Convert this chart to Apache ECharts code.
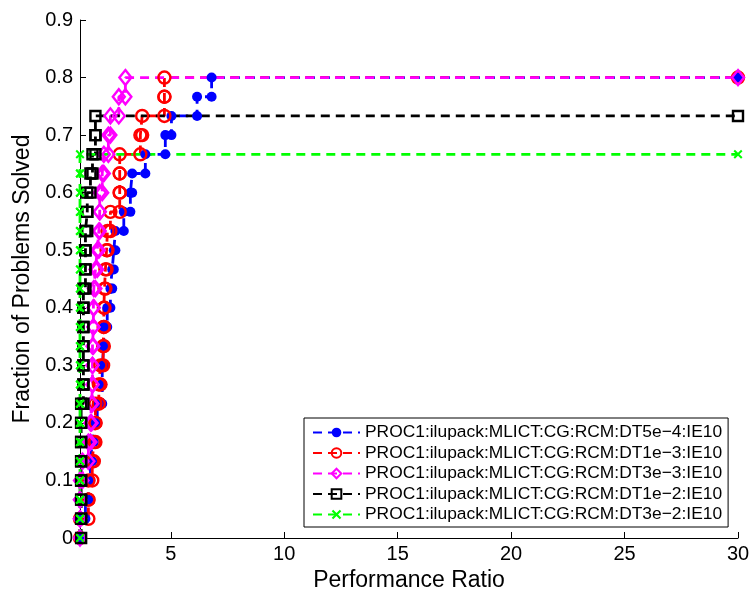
<!DOCTYPE html>
<html>
<head>
<meta charset="utf-8">
<script src="https://cdn.jsdelivr.net/npm/echarts@6/dist/echarts.min.js"></script>
<style>
  html, body { margin: 0; padding: 0; background: #fff; }
  #chart { width: 750px; height: 591px; }
</style>
</head>
<body>
<div id="chart"></div>
<script>
// Performance profile: sorted performance ratios of the solved problems per solver
const nProblems = 30;
const ratioMax = 30;

const seriesNames = [
  'PROC1:ilupack:MLICT:CG:RCM:DT5e\u22124:IE10',
  'PROC1:ilupack:MLICT:CG:RCM:DT1e\u22123:IE10',
  'PROC1:ilupack:MLICT:CG:RCM:DT3e\u22123:IE10',
  'PROC1:ilupack:MLICT:CG:RCM:DT1e\u22122:IE10',
  'PROC1:ilupack:MLICT:CG:RCM:DT3e\u22122:IE10'
];

const ratiosDT5e4 = [1.00, 1.24, 1.37, 1.46, 1.54, 1.61, 1.76, 1.98, 1.98, 2.05, 2.05, 2.20,
                     2.34, 2.42, 2.49, 2.56, 2.93, 3.22, 3.30, 3.88, 4.76, 5.03, 6.16, 6.80];
const ratiosDT1e3 = [1.00, 1.37, 1.37, 1.54, 1.61, 1.68, 1.68, 1.83, 1.90, 2.02, 2.05, 2.05,
                     2.08, 2.12, 2.17, 2.21, 2.34, 2.75, 2.75, 2.75, 3.66, 3.74, 4.72, 4.72];
const ratiosDT3e3 = [1.00, 1.00, 1.00, 1.11, 1.37, 1.46, 1.51, 1.55, 1.55, 1.55, 1.59, 1.59,
                     1.61, 1.68, 1.76, 1.83, 1.87, 1.87, 1.98, 2.05, 2.25, 2.34, 2.71, 3.00];
const ratiosDT1e2 = [1.05, 1.05, 1.05, 1.05, 1.05, 1.05, 1.05, 1.15, 1.15, 1.15, 1.15, 1.15,
                     1.15, 1.24, 1.24, 1.24, 1.32, 1.32, 1.46, 1.55, 1.68, 1.68];
const ratiosDT3e2 = [1.00, 1.00, 1.00, 1.00, 1.00, 1.00, 1.00, 1.00, 1.00, 1.00,
                     1.00, 1.00, 1.00, 1.00, 1.00, 1.00, 1.00, 1.00, 1.00, 1.00];

const xTicks = [5, 10, 15, 20, 25, 30];

// staircase vertices (ratio, fraction solved), extended to the largest ratio shown
function profile(ratios) {
  const pts = [];
  ratios.forEach((r, i) => {
    pts.push([r, i / nProblems]);
    pts.push([r, (i + 1) / nProblems]);
  });
  pts.push([ratioMax, ratios.length / nProblems]);
  return pts;
}

const crossPath = 'path://M0,1.6L1.6,0L5,3.4L8.4,0L10,1.6L6.6,5L10,8.4L8.4,10L5,6.6L1.6,10L0,8.4L3.4,5Z';

const styles = [
  { color: '#0000ff', symbol: 'circle', size: 10, hollow: false },
  { color: '#ff0000', symbol: 'circle', size: 12, hollow: true },
  { color: '#ff00ff', symbol: 'diamond', size: [12, 15], hollow: true },
  { color: '#000000', symbol: 'rect', size: 10, hollow: true },
  { color: '#00ff00', symbol: crossPath, size: 9, hollow: false }
];
const allRatios = [ratiosDT5e4, ratiosDT1e3, ratiosDT3e3, ratiosDT1e2, ratiosDT3e2];

const series = allRatios.map((rs, i) => {
  const s = styles[i];
  return {
    name: seriesNames[i],
    type: 'line',
    data: profile(rs),
    clip: false,
    showAllSymbol: true,
    symbol: s.symbol,
    symbolSize: s.size,
    lineStyle: { color: s.color, width: 2.8, type: [9, 6] },
    itemStyle: s.hollow
      ? { color: 'rgba(0,0,0,0)', borderColor: s.color, borderWidth: 2.4 }
      : { color: s.color, borderWidth: 0 },
    emphasis: { disabled: true },
    animation: false
  };
});

const chart = echarts.init(document.getElementById('chart'), null, { renderer: 'canvas' });
chart.setOption({
  backgroundColor: '#ffffff',
  animation: false,
  textStyle: { fontFamily: 'Liberation Sans, Arial, sans-serif', color: '#000' },
  grid: { left: 80, right: 12, top: 20, bottom: 53, containLabel: false, outerBoundsMode: 'none' },
  xAxis: {
    type: 'value',
    min: 1,
    max: ratioMax,
    name: 'Performance Ratio',
    nameLocation: 'middle',
    nameGap: 28,
    nameTextStyle: { fontSize: 23, color: '#000', fontFamily: 'Liberation Sans' },
    axisLine: { show: true, onZero: false, lineStyle: { color: '#000', width: 1 } },
    axisTick: { show: true, inside: true, length: 6, customValues: xTicks, lineStyle: { color: '#000' } },
    axisLabel: { customValues: xTicks, fontSize: 20, color: '#000', margin: 6, fontFamily: 'Liberation Sans' },
    splitLine: { show: false }
  },
  yAxis: {
    type: 'value',
    min: 0,
    max: 0.9,
    interval: 0.1,
    name: 'Fraction of Problems Solved',
    nameLocation: 'middle',
    nameRotate: 90,
    nameGap: 45,
    nameTextStyle: { fontSize: 23, color: '#000', fontFamily: 'Liberation Sans' },
    axisLine: { show: true, lineStyle: { color: '#000', width: 1 } },
    axisTick: { show: true, inside: true, length: 6, lineStyle: { color: '#000' } },
    axisLabel: {
      fontSize: 20, color: '#000', margin: 7, fontFamily: 'Liberation Sans',
      formatter: v => (Math.round(v * 10) / 10).toString()
    },
    splitLine: { show: false }
  },
  legend: {
    orient: 'vertical',
    left: 304,
    top: 418,
    padding: [6, 6, 4, 8],
    itemGap: 3.5,
    itemWidth: 47,
    itemHeight: 12,
    backgroundColor: '#fff',
    borderColor: '#000',
    borderWidth: 1,
    textStyle: { fontSize: 17.4, color: '#000', fontFamily: 'Liberation Sans' },
    data: seriesNames
  },
  series: series
});
</script>
</body>
</html>
